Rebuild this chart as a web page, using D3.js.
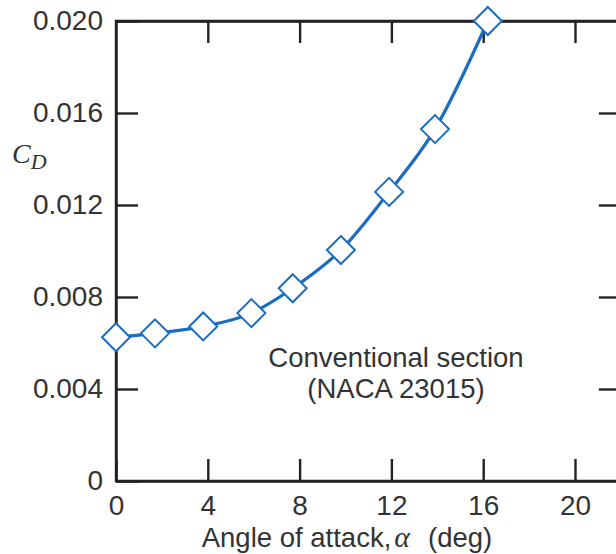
<!DOCTYPE html>
<html>
<head>
<meta charset="utf-8">
<script src="https://cdn.jsdelivr.net/npm/d3@7"></script>
<style>
  html, body { margin: 0; padding: 0; background: #fff; }
  svg { display: block; }
  .tick text { font-family: "Liberation Sans", Arial, sans-serif; font-size: 28px; fill: #333; }
</style>
</head>
<body>
<div id="chart"></div>
<script>
// Drag coefficient vs angle of attack, NACA 23015 section
const alphaDeg = [0, 1.7, 3.8, 5.9, 7.7, 9.8, 11.9, 13.9, 16.2];
const dragCoef = [0.00625, 0.00642, 0.00672, 0.0073, 0.00838, 0.01004, 0.01257, 0.0153, 0.0200];
const xTicks = [0, 4, 8, 12, 16, 20];
const yTicks = [0, 0.004, 0.008, 0.012, 0.016, 0.020];

const W = 616, H = 554;
const plotLeft = 116, plotTop = 21, plotBottom = 481;
const plotRight = plotLeft + 22 * 22.95;

const svg = d3.select("#chart").append("svg").attr("width", W).attr("height", H);

const x = d3.scaleLinear().domain([0, 22]).range([plotLeft, plotRight]);
const y = d3.scaleLinear().domain([0, 0.02]).range([plotBottom, plotTop]);

const axisColor = "#222";
const tickLen = 22;
const fmtY = d => d === 0 ? "0" : d3.format(".3f")(d);

function styleAxis(g) {
  g.selectAll(".domain").attr("stroke", axisColor).attr("stroke-width", 2.4);
  g.selectAll(".tick line").attr("stroke", axisColor).attr("stroke-width", 2.4);
}

// left axis with labels
svg.append("g").attr("transform", `translate(${plotLeft},0)`)
  .call(d3.axisLeft(y).tickValues(yTicks).tickFormat(fmtY)
    .tickSizeInner(-tickLen).tickSizeOuter(0).tickPadding(13))
  .call(styleAxis);

// bottom axis with labels
svg.append("g").attr("transform", `translate(0,${plotBottom})`)
  .call(d3.axisBottom(x).tickValues(xTicks).tickFormat(d3.format("d"))
    .tickSizeInner(-tickLen).tickSizeOuter(0).tickPadding(14))
  .call(styleAxis);

// top and right frame axes, ticks only
svg.append("g").attr("transform", `translate(0,${plotTop})`)
  .call(d3.axisTop(x).tickValues(xTicks.slice(1)).tickFormat("")
    .tickSizeInner(-tickLen).tickSizeOuter(0))
  .call(styleAxis);
svg.append("g").attr("transform", `translate(${plotRight},0)`)
  .call(d3.axisRight(y).tickValues(yTicks.slice(1, -1)).tickFormat("")
    .tickSizeInner(-tickLen).tickSizeOuter(0))
  .call(styleAxis);

// closed frame so the corners join cleanly
svg.append("path")
  .attr("d", `M${plotLeft},${plotTop}H${plotRight}V${plotBottom}H${plotLeft}Z`)
  .attr("fill", "none").attr("stroke", axisColor).attr("stroke-width", 2.4);

const blue = "#1c6cc0";
const pts = alphaDeg.map((a, i) => [a, dragCoef[i]]);

// fitted curve
svg.append("path")
  .datum(pts)
  .attr("d", d3.line().x(d => x(d[0])).y(d => y(d[1])).curve(d3.curveMonotoneX))
  .attr("fill", "none").attr("stroke", blue).attr("stroke-width", 3.2);

// diamond markers
const r = 14;
svg.append("g").selectAll("path").data(pts).join("path")
  .attr("d", d => `M${x(d[0])},${y(d[1]) - r}L${x(d[0]) + r},${y(d[1])}L${x(d[0])},${y(d[1]) + r}L${x(d[0]) - r},${y(d[1])}Z`)
  .attr("fill", "#fff").attr("stroke", blue).attr("stroke-width", 2);

// annotation
const ann = svg.append("text")
  .attr("font-family", "Liberation Sans, Arial, sans-serif")
  .attr("font-size", 27.5).attr("fill", "#333").attr("text-anchor", "middle");
ann.append("tspan").attr("x", 396).attr("y", 367).text("Conventional section");
ann.append("tspan").attr("x", 396).attr("y", 398).text("(NACA 23015)");

// axis titles
const xt = svg.append("text")
  .attr("x", 347).attr("y", 547)
  .attr("font-family", "Liberation Sans, Arial, sans-serif")
  .attr("font-size", 27.5).attr("fill", "#333").attr("text-anchor", "middle");
xt.append("tspan").text("Angle of attack,");
xt.append("tspan").attr("dx", 3).attr("font-family", "Liberation Serif, Times New Roman, serif")
  .attr("font-style", "italic").attr("font-size", 30).text("α");
xt.append("tspan").attr("dx", 18).text("(deg)");

const yt = svg.append("text")
  .attr("x", 12).attr("y", 163)
  .attr("font-family", "Liberation Serif, Times New Roman, serif")
  .attr("font-style", "italic").attr("font-size", 28).attr("fill", "#333");
yt.append("tspan").text("C");
yt.append("tspan").attr("dy", 6).attr("font-size", 22).text("D");
</script>
</body>
</html>
